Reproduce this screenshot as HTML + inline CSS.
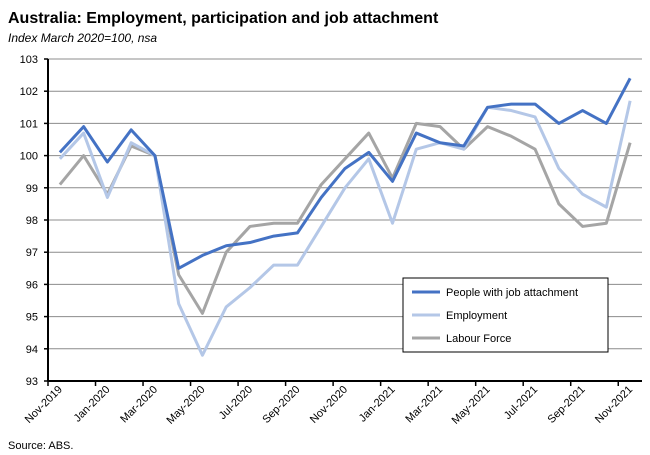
<!DOCTYPE html>
<html><head><meta charset="utf-8"><style>
body{margin:0;background:#fff;font-family:"Liberation Sans",sans-serif;}
svg{display:block}
</style></head><body>
<svg width="650" height="455" id="c">
<text x="8" y="23" font-size="16" font-weight="bold" fill="#000">Australia: Employment, participation and job attachment</text>
<text x="8" y="42" font-size="12" font-style="italic" fill="#000">Index March 2020=100,  nsa</text>
<text x="8" y="449" font-size="11" fill="#000">Source: ABS.</text>
<g id="grid"></g><g id="series"></g><g id="axes"></g>
<g>
<rect x="403" y="278" width="205" height="74" fill="#fff" stroke="#000" stroke-width="1"/>
<g id="legend"></g>
</g>
</svg>
<script>
const months=["Nov-2019","Dec-2019","Jan-2020","Feb-2020","Mar-2020","Apr-2020","May-2020","Jun-2020","Jul-2020","Aug-2020","Sep-2020","Oct-2020","Nov-2020","Dec-2020","Jan-2021","Feb-2021","Mar-2021","Apr-2021","May-2021","Jun-2021","Jul-2021","Aug-2021","Sep-2021","Oct-2021","Nov-2021"];
const jobAttachment=[100.1,100.9,99.8,100.8,100.0,96.5,96.9,97.2,97.3,97.5,97.6,98.7,99.6,100.1,99.2,100.7,100.4,100.3,101.5,101.6,101.6,101.0,101.4,101.0,102.4];
const employment=[99.9,100.7,98.7,100.4,100.0,95.4,93.8,95.3,95.9,96.6,96.6,97.8,99.0,99.9,97.9,100.2,100.4,100.2,101.5,101.4,101.2,99.6,98.8,98.4,101.7];
const labourForce=[99.1,100.0,98.8,100.3,100.0,96.3,95.1,97.0,97.8,97.9,97.9,99.1,99.9,100.7,99.3,101.0,100.9,100.2,100.9,100.6,100.2,98.5,97.8,97.9,100.4];
const yTicks=[93,94,95,96,97,98,99,100,101,102,103];
const seriesNames=["People with job attachment","Employment","Labour Force"];
const NS="http://www.w3.org/2000/svg";
const X0=48,X1=642,Y0=381,Y1=59,yMin=93,yMax=103;
const cw=(X1-X0)/months.length;
const xs=i=>X0+cw*(i+0.5);
const ys=v=>Y0-(v-yMin)/(yMax-yMin)*(Y0-Y1);
function mk(t,a,p){const e=document.createElementNS(NS,t);for(const k in a)e.setAttribute(k,a[k]);p.appendChild(e);return e;}
const grid=document.getElementById('grid'),axes=document.getElementById('axes'),ser=document.getElementById('series'),leg=document.getElementById('legend');
yTicks.forEach(v=>{
  if(v!==yMin){const g=mk('line',{x1:X0,x2:X1,y1:ys(v),y2:ys(v),stroke:'#8c8c8c','stroke-width':1},grid);
  
  }
  const t=mk('text',{x:X0-10,y:ys(v)+4,'font-size':11,'text-anchor':'end',fill:'#000'},axes);t.textContent=v;
  
  
  mk('line',{x1:X0-4,x2:X0,y1:ys(v),y2:ys(v),stroke:'#000','stroke-width':1.5},axes);
});
const ya=mk('line',{x1:X0,x2:X0,y1:Y1,y2:Y0,stroke:'#000','stroke-width':2},axes);


const xa=mk('line',{x1:X0,x2:X1,y1:Y0,y2:Y0,stroke:'#000','stroke-width':2},axes);


months.forEach((m,i)=>{
  if(i%2===0){
    const tx=X0+cw*i;
    mk('line',{x1:tx,x2:tx,y1:Y0,y2:Y0+5,stroke:'#000','stroke-width':1.5},axes);
    const t=mk('text',{x:0,y:0,'font-size':11,'text-anchor':'end',fill:'#000',transform:`translate(${xs(i)+3},${Y0+9}) rotate(-45)`},axes);
    t.textContent=m;
    
    
  }
});
const data=[labourForce,employment,jobAttachment];
const cols=['#a5a5a5','#b4c7e7','#4472c4'];
const names=['series-labour-force','series-employment','series-job-attachment'];
data.forEach((d,k)=>{
  const p=mk('polyline',{points:d.map((v,i)=>xs(i)+','+ys(v)).join(' '),fill:'none',stroke:cols[k],'stroke-width':3,'stroke-linejoin':'round'},ser);
  
  
});
const lc=['#4472c4','#b4c7e7','#a5a5a5'];
seriesNames.forEach((n,k)=>{
  const y=292+k*23;
  mk('line',{x1:412,x2:440,y1:y,y2:y,stroke:lc[k],'stroke-width':3},leg);
  const t=mk('text',{x:446,y:y+4,'font-size':11,fill:'#000'},leg);t.textContent=n;
  
  
});
</script>
</body></html>
